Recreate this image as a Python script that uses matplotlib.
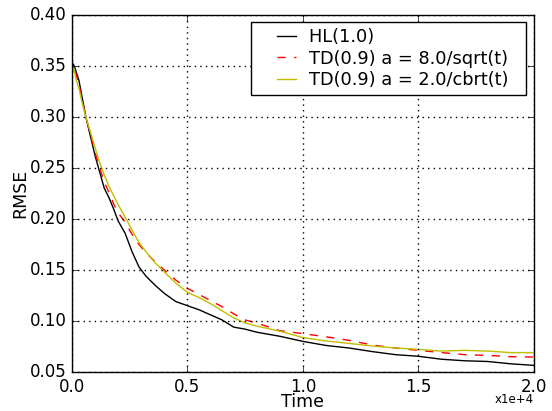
import numpy as np
import matplotlib
matplotlib.use("Agg")
import matplotlib.pyplot as plt
from matplotlib.ticker import FuncFormatter
from matplotlib.lines import Line2D
from matplotlib.legend_handler import HandlerLine2D

plt.style.use("classic")

# time in steps
t = np.array([0, 0.005, 0.01, 0.02, 0.03, 0.045, 0.06, 0.08, 0.10, 0.12, 0.14,
              0.16, 0.18, 0.20, 0.23, 0.26, 0.29, 0.32, 0.36, 0.40, 0.45, 0.50,
              0.55, 0.60, 0.65, 0.70, 0.75, 0.80, 0.90, 1.0, 1.1, 1.2, 1.3, 1.4,
              1.5, 1.6, 1.7, 1.8, 1.9, 2.0]) * 1e4

hl = [0.345, 0.352, 0.350, 0.343, 0.336, 0.318, 0.300, 0.281, 0.262, 0.246, 0.230,
      0.221, 0.210, 0.198, 0.186, 0.168, 0.153, 0.144, 0.135, 0.127, 0.119, 0.115,
      0.111, 0.106, 0.101, 0.094, 0.092, 0.089, 0.085, 0.080, 0.076, 0.0735, 0.070, 0.067,
      0.0654, 0.0625, 0.061, 0.0603, 0.058, 0.0565]

td_sqrt = [0.342, 0.351, 0.348, 0.340, 0.332, 0.316, 0.300, 0.283, 0.265, 0.250, 0.236,
           0.226, 0.215, 0.206, 0.197, 0.185, 0.175, 0.167, 0.158, 0.150, 0.140, 0.132,
           0.126, 0.120, 0.114, 0.107, 0.101, 0.098, 0.0905, 0.0876, 0.0845, 0.081, 0.0765, 0.0735,
           0.0712, 0.069, 0.067, 0.0663, 0.065, 0.0647]

td_cbrt = [0.340, 0.350, 0.345, 0.335, 0.328, 0.313, 0.300, 0.285, 0.270, 0.255, 0.243,
           0.232, 0.223, 0.214, 0.202, 0.189, 0.177, 0.168, 0.157, 0.148, 0.137, 0.128,
           0.123, 0.117, 0.110, 0.103, 0.098, 0.095, 0.090, 0.0837, 0.0804, 0.078, 0.0755, 0.0735,
           0.0722, 0.0705, 0.0712, 0.0705, 0.069, 0.069]

fig = plt.figure(figsize=(5.52, 4.11), dpi=100, facecolor="white")
ax = fig.add_axes([0.1304, 0.0949, 0.837, 0.8686])

ax.plot(t, hl, "k-", lw=1, label="HL(1.0)")
ax.plot(t, td_sqrt, "r--", lw=1, label="TD(0.9) a = 8.0/sqrt(t)")
ax.plot(t, td_cbrt, "y-", lw=1, label="TD(0.9) a = 2.0/cbrt(t)")

ax.set_xlim(0, 20000)
ax.set_ylim(0.05, 0.40)
ax.set_xticks([0, 5000, 10000, 15000, 20000])
ax.xaxis.set_major_formatter(FuncFormatter(lambda v, p: "%.1f" % (v / 1e4)))
ax.set_yticks(np.arange(0.05, 0.401, 0.05))
ax.yaxis.set_major_formatter(FuncFormatter(lambda v, p: "%.2f" % v))
ax.grid(True, color="black", linestyle=":", lw=1)
ax.tick_params(labelsize=12)
ax.set_xlabel("Time", fontsize=12.5)
ax.xaxis.set_label_coords(0.5, -0.058)
ax.set_ylabel("RMSE", fontsize=12.5, labelpad=0)
ax.text(1.0, -0.058, "x1e+4", transform=ax.transAxes, ha="right", va="top", fontsize=8.5)

handles, labels = ax.get_legend_handles_labels()
labels = [s + "  " for s in labels]
ax.legend(handles, labels, loc="upper right", bbox_to_anchor=(0.982, 0.981),
          borderaxespad=0, fontsize=12.8, fancybox=False, handlelength=2.2,
          handletextpad=0.7, borderpad=0.35, labelspacing=0.2,
          handler_map={Line2D: HandlerLine2D(xpad=1.1, marker_pad=0)})

fig.savefig("out.png", dpi=100, facecolor="white")
